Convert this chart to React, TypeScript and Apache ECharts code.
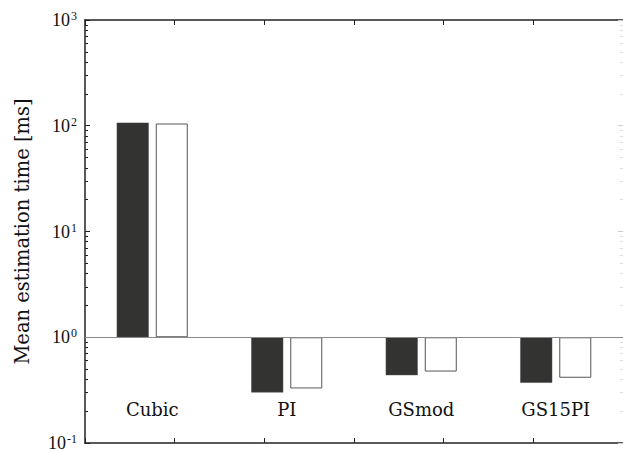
import React, { useEffect, useRef } from "react";
import * as echarts from "echarts";

const categories = ["Cubic", "PI", "GSmod", "GS15PI"];
const seriesDark = [107, 0.301, 0.438, 0.371];
const seriesWhite = [105, 0.328, 0.474, 0.414];
const yMin = 0.1;
const yMax = 1000;
const minorTickValues = [
  0.2, 0.3, 0.4, 0.5, 0.6, 0.7, 0.8, 0.9,
  2, 3, 4, 5, 6, 7, 8, 9,
  20, 30, 40, 50, 60, 70, 80, 90,
  200, 300, 400, 500, 600, 700, 800, 900,
];
const yName = "Mean estimation time [ms]";

const SERIF_WORD = "'DejaVu Serif', serif";
const SERIF_NUM = "'Liberation Serif', serif";
const AXIS = "#222";

export default function App() {
  const ref = useRef<HTMLDivElement>(null);
  useEffect(() => {
    if (!ref.current) return;
    const chart = echarts.init(ref.current, undefined, { renderer: "svg" });
    const valueX = (position: "top" | "bottom") => ({
      type: "value",
      min: 0,
      max: 6,
      interval: 1,
      position,
      gridIndex: 0,
      axisLine: { show: true, lineStyle: { color: AXIS, width: 1.5 } },
      axisTick: { show: true, inside: true, length: 5, lineStyle: { color: AXIS, width: 1 } },
      axisLabel: { show: false },
      splitLine: { show: false },
    });
    const logY = (position: "left" | "right", opts: any) => ({
      type: "log",
      logBase: 10,
      min: yMin,
      max: yMax,
      position,
      splitLine: { show: false },
      ...opts,
    });
    chart.setOption({
      animation: false,
      grid: { left: 85, top: 20, width: 541, height: 426, containLabel: false },
      xAxis: [
        {
          type: "category",
          data: categories,
          position: "bottom",
          axisLine: { show: false },
          axisTick: { show: false },
          axisLabel: {
            inside: true,
            margin: 25,
            fontFamily: SERIF_WORD,
            fontSize: 18,
            color: "#111",
          },
          splitLine: { show: false },
        },
        valueX("bottom"),
        valueX("top"),
      ],
      yAxis: [
        logY("left", {
          axisLine: { show: true, lineStyle: { color: AXIS, width: 1.5 } },
          axisTick: { show: true, inside: true, length: 5, lineStyle: { color: AXIS } },
          axisLabel: {
            margin: 8,
            formatter: (v: number) => `{b|10}{s|${Math.round(Math.log10(v))}}`,
            rich: {
              b: { fontFamily: SERIF_NUM, fontSize: 18, color: "#111", lineHeight: 20 },
              s: { fontFamily: SERIF_NUM, fontSize: 12, color: "#111", verticalAlign: "top", lineHeight: 20, padding: [0, 0, 0, 1] },
            },
          },
          name: yName,
          nameLocation: "middle",
          nameRotate: 90,
          nameGap: 53,
          nameTextStyle: { fontFamily: SERIF_WORD, fontSize: 19.5, color: "#111" },
        }),
        logY("left", {
          axisLine: { show: false },
          axisTick: { show: true, inside: true, length: 3, customValues: minorTickValues, lineStyle: { color: AXIS } },
          axisLabel: { show: false },
        }),
        logY("right", {
          axisLine: { show: false },
          axisTick: { show: true, inside: true, length: 5, lineStyle: { color: "#ccc" } },
          axisLabel: { show: false },
        }),
        logY("right", {
          axisLine: { show: false },
          axisTick: { show: true, inside: true, length: 3, customValues: minorTickValues, lineStyle: { color: "#ddd" } },
          axisLabel: { show: false },
        }),
      ],
      series: [
        {
          type: "bar",
          xAxisIndex: 0,
          yAxisIndex: 0,
          data: seriesDark,
          barWidth: 32,
          barGap: "22%",
          itemStyle: { color: "#333331", borderColor: "#4a4a4a", borderWidth: 0.5 },
          markLine: {
            silent: true,
            symbol: "none",
            label: { show: false },
            lineStyle: { color: "#8a8a8a", width: 1, type: "solid" },
            data: [{ yAxis: 1 }],
          },
        },
        {
          type: "bar",
          xAxisIndex: 0,
          yAxisIndex: 0,
          data: seriesWhite,
          barWidth: 32,
          barGap: "22%",
          itemStyle: { color: "#ffffff", borderColor: "#555", borderWidth: 1 },
        },
      ],
    });
    return () => chart.dispose();
  }, []);
  return <div ref={ref} style={{ width: 623, height: 452, position: "absolute", left: 0, top: 0 }} />;
}
